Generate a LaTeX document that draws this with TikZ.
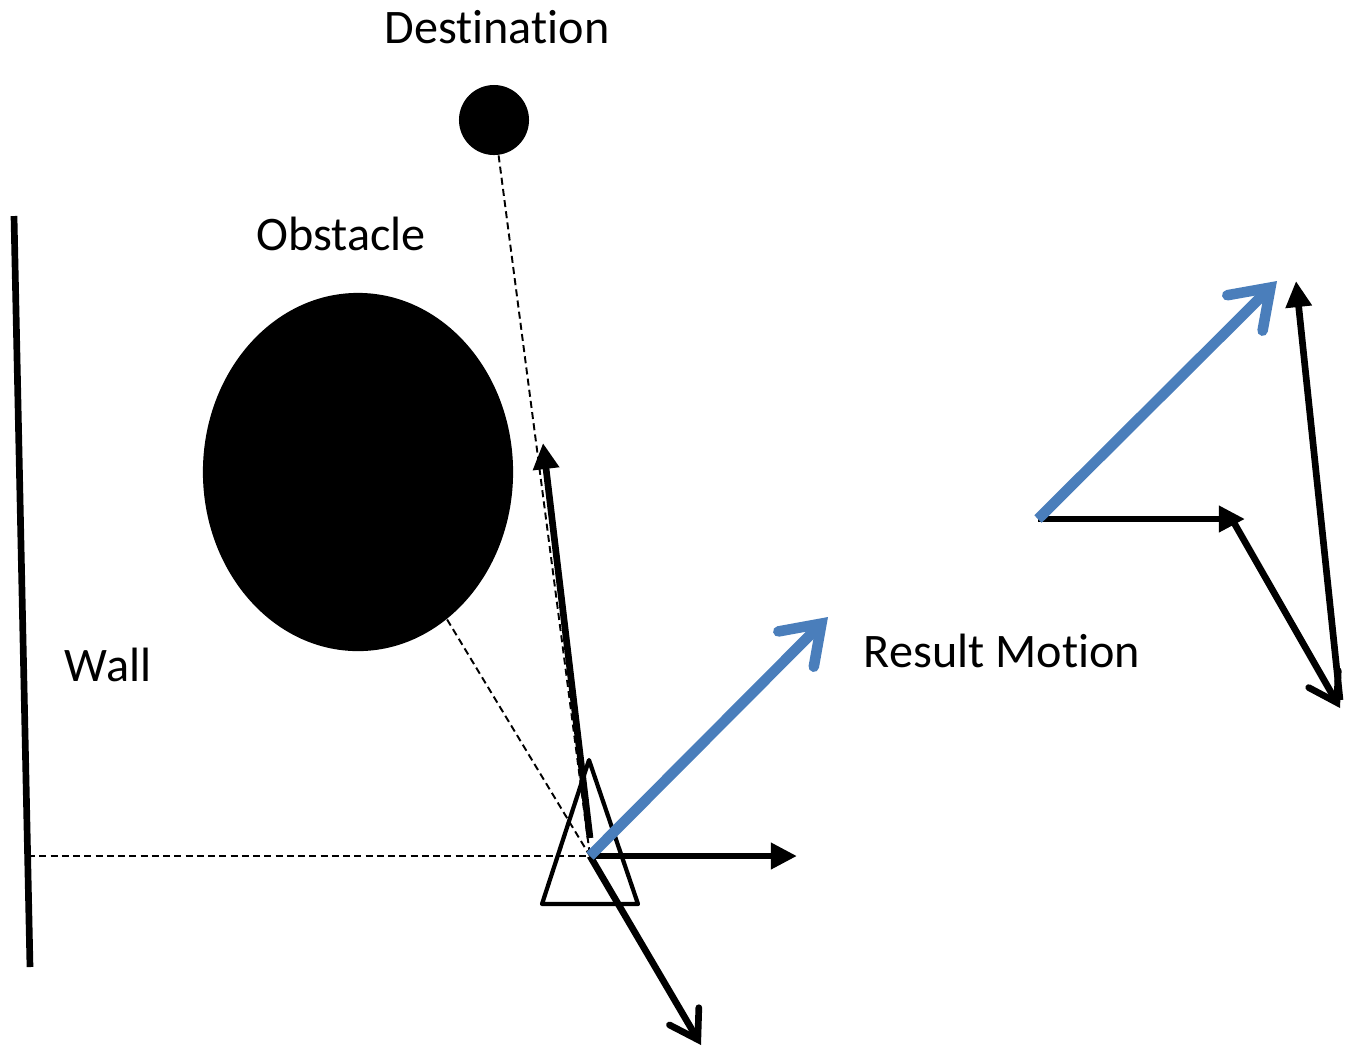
\documentclass[tikz,border=0pt]{standalone}
\usepackage{fontspec}
\setmainfont{Carlito}[RawFeature={-liga;-clig;-dlig;-calt}]
\usetikzlibrary{arrows.meta,shapes.geometric}
\definecolor{resblue}{HTML}{4A7EBB}
\tikzset{
  lbl/.style={font=\fontsize{13.7}{16}\selectfont, inner sep=0pt},
  dashline/.style={line width=0.55pt, dash pattern=on 2pt off 1.2pt},
  vecsolid/.style={line width=1.9pt, -{Triangle[length=0.26cm,width=0.25cm]}},
  vecopen/.style={line width=1.9pt, -{Straight Barb[length=0.27cm,width=0.34cm,line cap=round]}},
  vecblue/.style={line width=3pt, resblue, -{Straight Barb[length=0.36cm,width=0.5cm,line cap=round]}},
}
\begin{document}
\begin{tikzpicture}[x=0.01cm,y=-0.01cm]
\useasboundingbox (0,0) rectangle (1348,1047);
% labels
\node[lbl] (tdest) at (497,27) {Destination};
\node[lbl] (tobs) at (341,234) {Obstacle};
\node[lbl] (twall) at (108,665) {Wall};
\node[lbl] (tres) at (1002,651) {Result Motion};
% shapes
\node[circle, fill=black, minimum size=0.7cm, inner sep=0pt] (dest) at (494,120) {};
\node[ellipse, fill=black, minimum width=3.1cm, minimum height=3.58cm, inner sep=0pt] (obs) at (358,472) {};
\coordinate (wtop) at (14,216);
\coordinate (wbot) at (30,967);
\coordinate (wfoot) at (28,856);
\draw[line width=1.9pt] (wtop) -- (wbot);
% robot
\coordinate (r) at (590,856);
\coordinate (rup) at (590,838);
\coordinate (tapex) at (589,760);
\coordinate (tbl) at (542,904);
\coordinate (tbr) at (638,904);
\draw[line width=1.2pt, line join=round] (tapex) -- (tbl) -- (tbr) -- cycle;
% dashed guides
\draw[dashline] (dest) -- (r);
\draw[dashline] (obs) -- (r);
\draw[dashline] (wfoot) -- (r);
% force vectors at robot
\coordinate (aup) at (543,443);
\coordinate (aright) at (797,856);
\coordinate (adown) at (701,1045);
\coordinate (ares) at (828,617);
\draw[vecsolid] (rup) -- (aup);
\draw[vecsolid] (r) -- (aright);
\draw[vecopen] (r) -- (adown);
\draw[vecblue] (r) -- (ares);
% vector sum
\coordinate (p0) at (1038,519);
\coordinate (p1) at (1245,519);
\coordinate (p1b) at (1233,521);
\coordinate (p2) at (1340,708);
\coordinate (p2b) at (1340,700);
\coordinate (p3) at (1296,281);
\coordinate (pb) at (1277,281);
\draw[vecsolid] (p0) -- (p1);
\draw[vecopen] (p1b) -- (p2);
\draw[vecsolid] (p2b) -- (p3);
\draw[vecblue] (p0) -- (pb);
\end{tikzpicture}
\end{document}
